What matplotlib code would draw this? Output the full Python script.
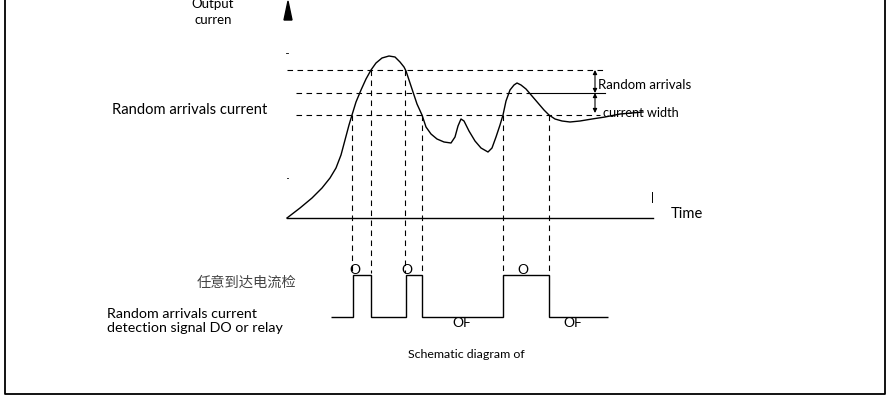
import matplotlib
matplotlib.use('Agg')
import matplotlib.pyplot as plt

# output current curve (x = time, y = current, pixel-like units, y grows downward)
curve_t = [287, 300, 312, 322, 330, 336, 341, 345, 349, 352, 356, 361, 366, 371, 376, 382, 389,
           395, 400, 404, 406, 409, 413, 417, 422, 426, 431, 437, 444, 451, 455, 458, 461, 464,
           469, 475, 481, 488, 492, 496, 500, 503, 506, 510, 514, 517, 521, 526, 532, 538, 544,
           549, 555, 562, 570, 580, 592, 605, 620, 643]
curve_i = [218, 208, 198, 188, 178, 168, 155, 140, 125, 115, 102, 90, 79, 70, 63, 58, 56,
           57, 62, 67, 71, 80, 92, 104, 115, 127, 134, 139, 142, 143, 137, 126, 119, 121,
           131, 141, 148, 152, 148, 137, 125, 115, 101, 90, 85, 83, 85, 89, 96, 103, 110,
           115, 119, 121, 122, 121, 119, 117, 114, 112]

# threshold levels: upper, middle, lower
level_upper = 70
level_mid = 93
level_lower = 115

# crossing times and the level where each crossing happens
cross_t = [352, 371, 405, 422, 503, 549]
cross_i = [115, 70, 70, 115, 115, 115]

# detection signal (DO / relay)
sig_edges = [331, 353, 371, 406, 422, 503, 549, 608]
sig_levels = [317, 275, 317, 275, 317, 275, 317]
sig_high = 275
on_labels_t = [355, 407, 523]
off_labels_t = [462, 573]

time_axis = (287, 653, 218)

fig = plt.figure(figsize=(8.89, 3.98), dpi=100)
ax = fig.add_axes([0, 0, 1, 1])
ax.set_xlim(0, 889)
ax.set_ylim(398, 0)
ax.axis('off')

font = 'Lato'
fs = 9.5

# frame (no top edge)
ax.plot([5, 5, 885, 885], [-2, 394, 394, -2], color='black', lw=1.3, clip_on=False)

# axes of the current plot
ax.plot([time_axis[0], time_axis[1]], [time_axis[2], time_axis[2]], color='black', lw=1.0)
ax.arrow(288, 20, 0, -19, width=0, head_width=8, head_length=19,
         length_includes_head=True, color='black')
ax.plot([286, 288], [53, 53], color='black', lw=0.6)
ax.plot([287, 288], [178, 178], color='black', lw=0.6)
ax.plot([652, 652], [192, 202], color='black', lw=0.7)

dash = dict(color='black', lw=0.8, ls=(0, (5, 4)))

# threshold lines
ax.plot([287, 603], [level_upper, level_upper], **dash)
ax.plot([296, 528], [level_mid, level_mid], **dash)
ax.plot([528, 605], [level_mid, level_mid], color='black', lw=0.8)
ax.plot([296, 600], [level_lower, level_lower], **dash)

# the current curve
ax.plot(curve_t, curve_i, color='black', lw=1.0)

# vertical dashed projections down to the signal
for t, i in zip(cross_t, cross_i):
    ax.plot([t, t], [i, sig_high - 2], **dash)

# width arrows
for y0, y1 in [(level_upper, level_mid), (level_mid, level_lower - 2)]:
    ax.annotate('', xy=(595, y0), xytext=(595, y1),
                arrowprops=dict(arrowstyle='<|-|>', color='black', lw=0.8,
                                mutation_scale=6, shrinkA=0, shrinkB=0))

# detection signal
ax.stairs(sig_levels, sig_edges, baseline=None, color='black', lw=1.0)

for t in on_labels_t:
    ax.text(t, sig_high + 1, 'O', ha='center', va='bottom', fontsize=fs + 0.5, family=font)
for t in off_labels_t:
    ax.text(t, 317, 'OF', ha='center', va='top', fontsize=fs + 0.5, family=font)

# labels
ax.text(213, 12, 'Output\ncurren', ha='center', va='center', fontsize=fs, family=font,
        linespacing=1.3)
ax.text(112, 110, 'Random arrivals current', ha='left', va='center', fontsize=10.6, family=font)
ax.text(671, 214, 'Time', ha='left', va='center', fontsize=10.6, family=font)
ax.text(598, 85, 'Random arrivals', ha='left', va='center', fontsize=fs, family=font)
ax.text(603, 113, 'current width', ha='left', va='center', fontsize=9.2, family=font)
ax.text(247, 283, '任意到达电流检', ha='center', va='center', fontsize=10.3,
        family=['Noto Sans CJK SC', 'DejaVu Sans'], color='#444444')
ax.text(107, 321, 'Random arrivals current\ndetection signal DO or relay', ha='left',
        va='center', fontsize=10.3, family=font, linespacing=1.2)
ax.text(466, 355, 'Schematic diagram of', ha='center', va='center', fontsize=8.9, family=font)

fig.savefig('out.png', dpi=100)
